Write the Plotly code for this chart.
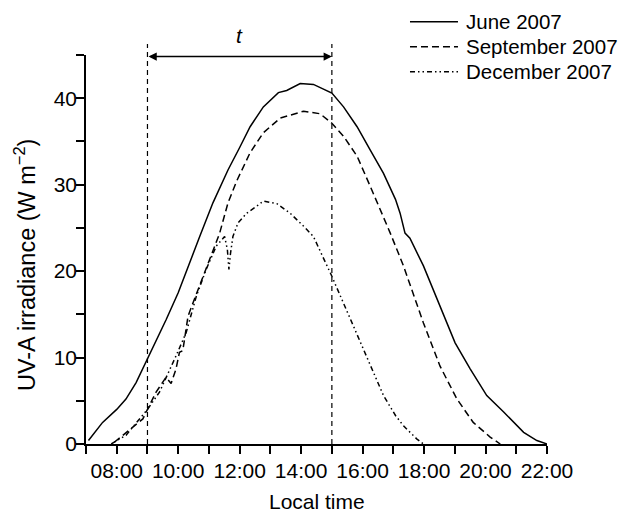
import plotly.graph_objects as go

# Local time in decimal hours
june_t = [7.08, 7.54, 8.0, 8.3, 8.63, 9.0, 9.17, 9.61, 10.0, 10.37, 10.7, 11.13, 11.62, 12.0,
          12.34, 12.77, 13.26, 13.53, 13.97, 14.4, 15.0, 15.38, 15.82, 16.25, 16.68, 17.07,
          17.22, 17.38, 17.54, 17.98, 18.52, 19.01, 19.5, 20.04, 20.59, 21.24, 21.67, 22.0]
june_v = [0.4, 2.5, 4.0, 5.2, 7.1, 9.8, 11.0, 14.4, 17.5, 21.0, 24.0, 27.9, 31.7, 34.3,
          36.7, 39.0, 40.65, 40.9, 41.7, 41.6, 40.6, 39.0, 36.7, 34.0, 31.3, 28.3,
          26.7, 24.4, 23.8, 20.6, 16.0, 11.7, 8.7, 5.6, 3.7, 1.35, 0.4, 0.0]

sep_t = [7.92, 8.3, 8.85, 9.0, 9.28, 9.6, 9.77, 9.93, 10.04, 10.15, 10.32, 10.48, 10.91, 11.35,
         11.62, 11.9, 12.34, 12.77, 13.32, 14.08, 14.62, 15.0, 15.38, 15.82, 16.25, 16.68,
         16.9, 17.33, 17.98, 18.52, 19.07, 19.6, 20.15, 20.48]
sep_v = [0.2, 1.3, 2.9, 4.0, 6.0, 7.7, 7.0, 8.7, 10.6, 10.8, 14.8, 16.3, 20.2, 24.4,
         27.9, 30.4, 33.7, 36.0, 37.7, 38.5, 38.2, 37.1, 35.6, 33.3, 29.8, 26.3,
         24.4, 20.6, 14.0, 9.0, 5.2, 2.5, 0.8, 0.0]

dec_t = [7.82, 8.3, 9.0, 9.39, 9.93, 10.26, 10.59, 10.91, 11.24, 11.51, 11.6, 11.65, 11.7,
         11.78, 11.95, 12.23, 12.55, 12.77, 13.21, 13.64, 14.08, 14.4, 15.0, 15.38, 15.82,
         16.25, 16.68, 17.07, 17.33, 17.76, 17.98]
dec_v = [0.0, 1.0, 4.0, 6.0, 10.2, 12.9, 17.1, 20.2, 22.9, 24.0, 22.5, 20.2, 22.0,
         24.0, 25.6, 26.7, 27.5, 28.1, 27.8, 26.7, 25.2, 24.0, 19.4, 16.3, 12.5,
         9.0, 5.6, 3.3, 2.1, 0.6, 0.0]

series_names = ["June 2007", "September 2007", "December 2007"]

x_tickvals = [8, 10, 12, 14, 16, 18, 20, 22]
x_ticktext = ["08:00", "10:00", "12:00", "14:00", "16:00", "18:00", "20:00", "22:00"]
y_tickvals = [0, 10, 20, 30, 40]
y_ticktext = ["0", "10", "20", "30", "40"]

period_start = 9.0
period_end = 15.0

FONT = "Liberation Sans, Arial, sans-serif"
DASHES = ["solid", "7px,4px", "5px,3px,1.5px,3px,1.5px,3px"]

fig = go.Figure()
for name, xs, ys, dash in zip(series_names, [june_t, sep_t, dec_t],
                              [june_v, sep_v, dec_v], DASHES):
    fig.add_trace(go.Scatter(x=xs, y=ys, mode="lines", name=name, showlegend=False,
                             line=dict(color="black", width=1.5, dash=dash)))

# period markers
for xv in (period_start, period_end):
    fig.add_shape(type="line", xref="x", yref="paper", x0=xv, x1=xv, y0=0, y1=1.028,
                  line=dict(color="black", width=1.2, dash="5px,4px"))

fig.add_annotation(x=period_end, y=0.996, xref="x", yref="paper",
                   ax=period_start, ay=0, axref="x", ayref="pixel",
                   text=" ", font=dict(size=2), borderpad=0,
                   showarrow=True, arrowside="end+start", arrowhead=2,
                   arrowsize=1.1, arrowwidth=1.5, arrowcolor="black", standoff=0,
                   startstandoff=0)
fig.add_annotation(x=(period_start + period_end) / 2, y=1.051, xref="x", yref="paper",
                   text="<i>t</i>", showarrow=False, yanchor="middle",
                   font=dict(size=21, family=FONT, color="black"))

# legend (line samples + labels)
legend_y = [1.0856, 1.0213, 0.9571]
for name, dash, ly in zip(series_names, DASHES, legend_y):
    fig.add_shape(type="line", xref="paper", yref="paper", x0=0.7028, x1=0.8069,
                  y0=ly, y1=ly, line=dict(color="black", width=1.5, dash=dash))
    fig.add_annotation(x=0.8200, y=ly, xref="paper", yref="paper", text=name,
                       showarrow=False, xanchor="left", yanchor="middle",
                       font=dict(size=20.5, family=FONT, color="black"))

# axis titles
fig.add_annotation(x=0.5, y=-0.1491, xref="paper", yref="paper", text="Local time",
                   showarrow=False, xanchor="center", yanchor="middle",
                   font=dict(size=21, family=FONT, color="black"))
fig.add_annotation(x=-0.1323, y=0.460, xref="paper", yref="paper",
                   text="UV-A irradiance (W m<sup>\u22122</sup>)", textangle=-90,
                   showarrow=False, xanchor="center", yanchor="middle",
                   font=dict(size=23.5, family=FONT, color="black"))

fig.update_xaxes(range=[7, 22], showline=True, linecolor="black", linewidth=1.5,
                 ticks="outside", ticklen=8, tickwidth=1.5, tickcolor="black",
                 tickvals=x_tickvals, ticktext=x_ticktext, showgrid=False, zeroline=False,
                 ticklabelstandoff=-1,
                 minor=dict(dtick=1, tick0=7, ticks="outside", ticklen=8, tickwidth=1.5,
                            tickcolor="black", showgrid=False),
                 tickfont=dict(size=21, family=FONT, color="black"))
fig.update_yaxes(range=[0, 45], showline=True, linecolor="black", linewidth=1.5,
                 ticks="outside", ticklen=8, tickwidth=1.5, tickcolor="black",
                 tickvals=y_tickvals, ticktext=y_ticktext, showgrid=False, zeroline=False,
                 ticklabelstandoff=-5,
                 minor=dict(dtick=5, tick0=0, ticks="outside", ticklen=8, tickwidth=1.5,
                            tickcolor="black", showgrid=False),
                 tickfont=dict(size=21, family=FONT, color="black"))

fig.update_layout(
    width=623, height=514,
    margin=dict(l=86, r=76, t=55, b=70, autoexpand=False),
    plot_bgcolor="white", paper_bgcolor="white",
    showlegend=False,
)

fig.write_html("out.html",
               config={"displayModeBar": False},
               post_script="document.body.style.margin='0';document.body.style.overflow='hidden';")
